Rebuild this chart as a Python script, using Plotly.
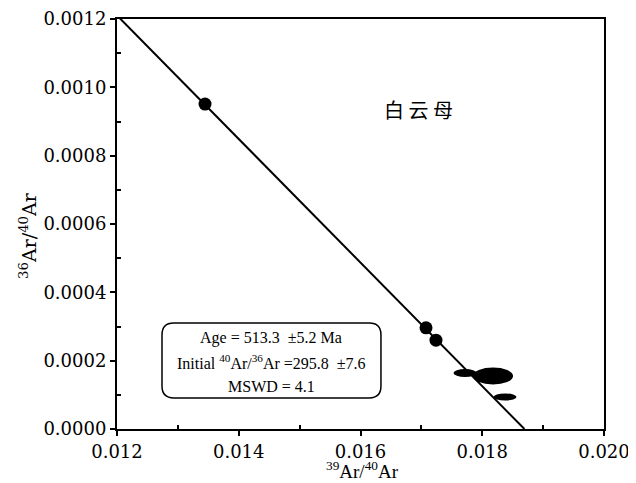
import plotly.graph_objects as go

# Data
dot_x = [0.013446, 0.017076, 0.017240]
dot_y = [0.000951, 0.000296, 0.000260]

ell_cx = [0.017717, 0.018177, 0.018374]
ell_cy = [0.000164, 0.000155, 0.0000937]
ell_rx = [0.000189, 0.000329, 0.000189]
ell_ry = [0.0000117, 0.0000249, 0.0000102]

initial_ratio = 295.8      # 40Ar/36Ar
x_intercept = 0.018693     # 39Ar/40Ar at y = 0

x_ticks = [0.012, 0.014, 0.016, 0.018, 0.020]
x_ticktext = ["0.012", "0.014", "0.016", "0.018", "0.020"]
y_ticks = [0.0, 0.0002, 0.0004, 0.0006, 0.0008, 0.0010, 0.0012]
y_ticktext = ["0.0000", "0.0002", "0.0004", "0.0006", "0.0008", "0.0010", "0.0012"]

y_intercept = 1.0 / initial_ratio
slope = -y_intercept / x_intercept
line_x = [0.012, x_intercept]
line_y = [y_intercept + slope * v for v in line_x]

SERIF = "Liberation Serif, Times New Roman, serif"
WIDE = "DejaVu Serif, serif"

fig = go.Figure()
fig.add_trace(go.Scatter(x=line_x, y=line_y, mode="lines",
                         line=dict(color="black", width=2), showlegend=False))
fig.add_trace(go.Scatter(x=dot_x, y=dot_y, mode="markers",
                         marker=dict(color="black", size=13), showlegend=False))

for cx, cy, rx, ry in zip(ell_cx, ell_cy, ell_rx, ell_ry):
    fig.add_shape(type="circle", xref="x", yref="y",
                  x0=cx - rx, x1=cx + rx, y0=cy - ry, y1=cy + ry,
                  fillcolor="black", line=dict(color="black", width=0))

# rounded box (paper coords)
bx0, bx1, by0, by1 = 0.0924, 0.542, 0.0756, 0.2585
rx_, ry_ = 0.024, 0.029
path = (f"M {bx0+rx_},{by0} L {bx1-rx_},{by0} Q {bx1},{by0} {bx1},{by0+ry_} "
        f"L {bx1},{by1-ry_} Q {bx1},{by1} {bx1-rx_},{by1} "
        f"L {bx0+rx_},{by1} Q {bx0},{by1} {bx0},{by1-ry_} "
        f"L {bx0},{by0+ry_} Q {bx0},{by0} {bx0+rx_},{by0} Z")
fig.add_shape(type="path", xref="paper", yref="paper", path=path,
              line=dict(color="black", width=1.5), fillcolor="white", layer="below")

cxp = (bx0 + bx1) / 2
box_lines = ["Age = 513.3  ±5.2 Ma",
             "Initial <sup>40</sup>Ar/<sup>36</sup>Ar =295.8  ±7.6",
             "MSWD = 4.1"]
box_y = [338, 362, 386]
for t, py in zip(box_lines, box_y):
    fig.add_annotation(x=cxp, y=(429 - py) / 410, xref="paper", yref="paper",
                       xanchor="center", yanchor="middle",
                       text=t, showarrow=False,
                       font=dict(family=SERIF, size=16, color="black"))

fig.add_annotation(x=(418 - 117) / 487, y=(429 - 110) / 410, xref="paper", yref="paper",
                   xanchor="center", yanchor="middle",
                   text="白 云 母", showarrow=False,
                   font=dict(family="Noto Sans CJK SC", size=20, color="black"))

# axis titles
fig.add_annotation(x=(362 - 117) / 487, y=(429 - 470) / 410, xref="paper", yref="paper",
                   xanchor="center", yanchor="middle", showarrow=False,
                   text="<sup>39</sup>Ar/<sup>40</sup>Ar",
                   font=dict(family=SERIF, size=19, color="black"))
fig.add_annotation(x=(28 - 117) / 487, y=(429 - 236) / 410, xref="paper", yref="paper",
                   xanchor="center", yanchor="middle", showarrow=False, textangle=-90,
                   text="<sup>36</sup>Ar/<sup>40</sup>Ar",
                   font=dict(family=WIDE, size=19, color="black"))

tickfont = dict(family=WIDE, size=18, color="black")
axis_common = dict(showgrid=False, zeroline=False, showline=True, linecolor="black",
                   linewidth=2, mirror=True, ticks="outside", ticklen=5, tickwidth=1.5,
                   tickcolor="black", tickfont=tickfont, automargin=False)

fig.update_xaxes(range=[0.012, 0.020], tickmode="array", tickvals=x_ticks, ticktext=x_ticktext,
                 minor=dict(ticks="inside", ticklen=4, tickvals=[0.013, 0.015, 0.017, 0.019],
                            tickcolor="black"),
                 **axis_common)
fig.update_yaxes(range=[0.0, 0.0012], tickmode="array", tickvals=y_ticks, ticktext=y_ticktext,
                 minor=dict(ticks="inside", ticklen=4,
                            tickvals=[0.0001, 0.0003, 0.0005, 0.0007, 0.0009, 0.0011],
                            tickcolor="black"),
                 **axis_common)

# page body has an 8px margin: offset margins so the plot area lands at 117..604 x 19..429
fig.update_layout(width=636, height=483, plot_bgcolor="white", paper_bgcolor="white",
                  font=dict(family=SERIF, size=18, color="black"),
                  margin=dict(l=109, r=40, t=11, b=62), showlegend=False)

fig.write_html("out.html")
